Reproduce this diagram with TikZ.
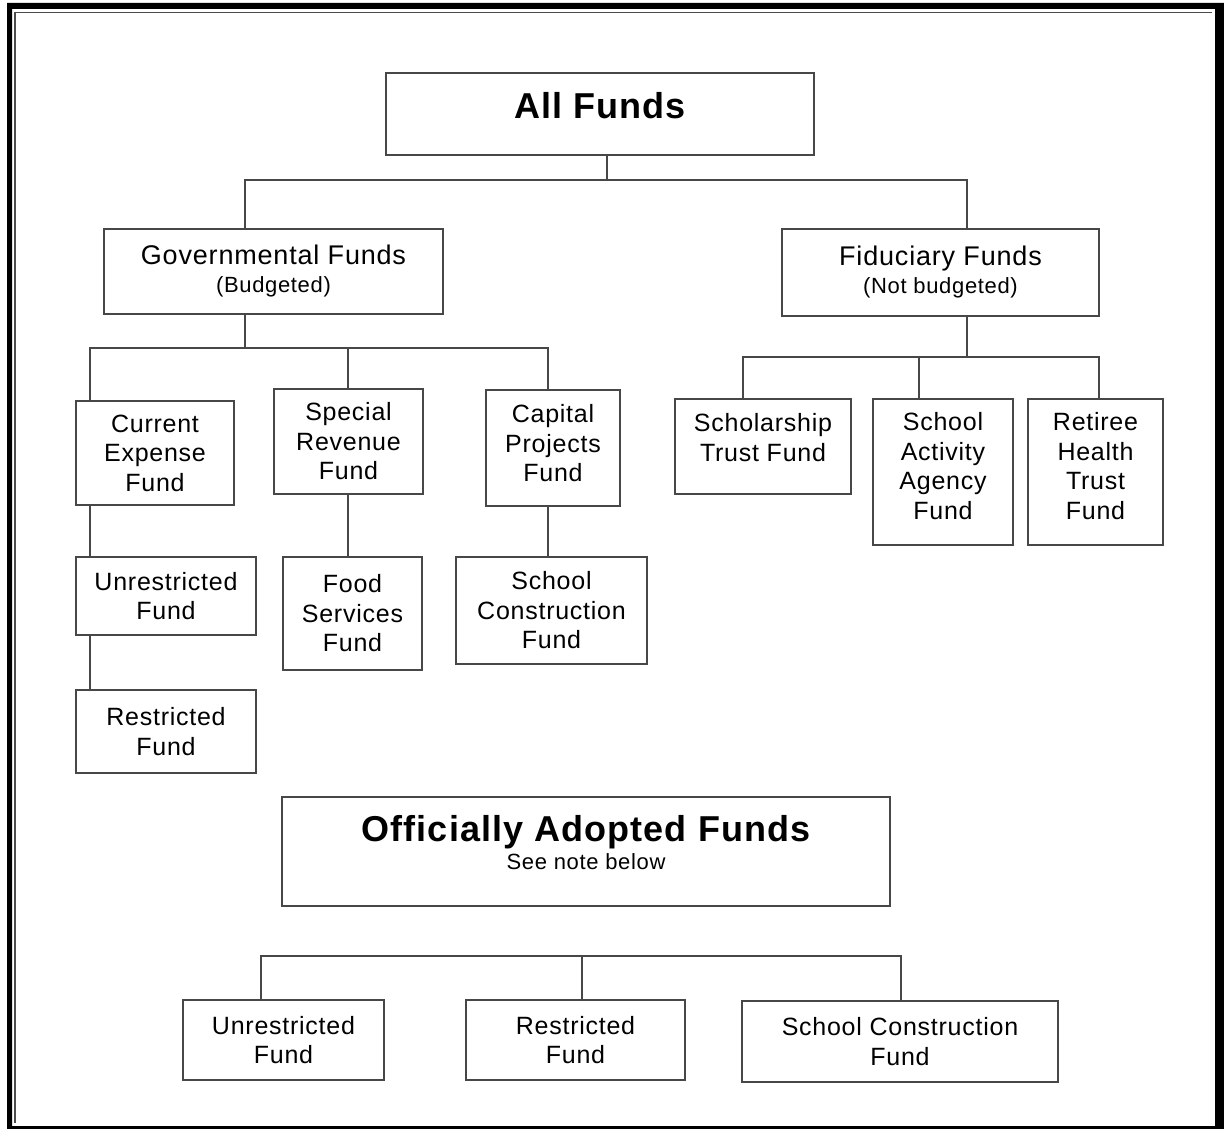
\documentclass[tikz,border=0pt]{standalone}
\usepackage{fontspec}
\setmainfont{Liberation Sans}[LetterSpace=3]
\begin{document}
\begin{tikzpicture}[x=1pt,y=-1pt,
  fbox/.style={draw=black!72, line width=1.6pt, inner sep=0pt, align=center,
    font=\fontsize{25}{29.5}\selectfont},
  conn/.style={draw=black!72, line width=1.6pt}]
\useasboundingbox (0,0) rectangle (1224,1129);
\fill[white] (0,0) rectangle (1224,1129);
% frame
\fill[black, even odd rule] (7,3) rectangle (1224,1129) (12,9) rectangle (1215,1126);
\draw[black!70, line width=1.5pt] (15,1123) -- (15,12.5) -- (1212,12.5);

% nodes
\node[fbox, minimum width=428, minimum height=82, text height=26pt, text depth=16pt,
  font=\fontsize{36}{40}\selectfont\bfseries] (allf) at (600,114) {All Funds};
\node[fbox, minimum width=339, minimum height=85] (gov) at (273.5,271.5)
  {{\fontsize{27}{30}\selectfont Governmental Funds}\\[-2pt]{\fontsize{22}{24}\selectfont (Budgeted)}\\[-23.5pt]\mbox{}};
\node[fbox, minimum width=317, minimum height=87] (fid) at (940.5,272.5)
  {{\fontsize{27}{30}\selectfont Fiduciary Funds}\\[-2pt]{\fontsize{22}{24}\selectfont (Not budgeted)}\\[-23.5pt]\mbox{}};

\node[fbox, minimum width=158, minimum height=104] (cur) at (155,453) {Current\\Expense\\Fund};
\node[fbox, minimum width=149, minimum height=105] (spr) at (348.5,441.5) {Special\\Revenue\\Fund};
\node[fbox, minimum width=134, minimum height=116] (cap) at (553,448) {Capital\\Projects\\Fund\\[-19.5pt]\mbox{}};
\node[fbox, minimum width=176, minimum height=95] (sch) at (763,446.5) {Scholarship\\Trust Fund\\[-11.5pt]\mbox{}};
\node[fbox, minimum width=140, minimum height=146] (act) at (943,472) {School\\Activity\\Agency\\Fund\\[-17.5pt]\mbox{}};
\node[fbox, minimum width=135, minimum height=146] (ret) at (1095.5,472) {Retiree\\Health\\Trust\\Fund\\[-17.5pt]\mbox{}};

\node[fbox, minimum width=180, minimum height=78] (unr) at (166,596) {Unrestricted\\Fund};
\node[fbox, minimum width=180, minimum height=83] (res) at (166,731.5) {Restricted\\Fund};
\node[fbox, minimum width=139, minimum height=113] (food) at (352.5,613.5) {Food\\Services\\Fund};
\node[fbox, minimum width=191, minimum height=107] (scon) at (551.5,610.5) {School\\Construction\\Fund};

\node[fbox, minimum width=608, minimum height=109] (off) at (586,851.5)
  {{\fontsize{36}{40}\selectfont\bfseries Officially Adopted Funds}\\[-1.5pt]{\fontsize{22}{24}\selectfont See note below}\\[-11.5pt]\mbox{}};

\node[fbox, minimum width=201, minimum height=80] (bunr) at (283.5,1040) {Unrestricted\\Fund};
\node[fbox, minimum width=219, minimum height=80] (bres) at (575.5,1040) {Restricted\\Fund};
\node[fbox, minimum width=316, minimum height=81] (bscon) at (900,1041.5) {School Construction\\Fund};

% connectors
\coordinate (t1) at (607,180);
\draw[conn] ([xshift=7pt]allf.south) -- (t1);
\draw[conn] ([xshift=-28.5pt]gov.north) |- (t1) -| ([xshift=26.5pt]fid.north);

\coordinate (t2) at (245,348);
\draw[conn] ([xshift=-28.5pt]gov.south) -- (t2);
\draw[conn] ([xshift=-65pt]cur.north) |- (t2) -| ([xshift=-5pt]cap.north);
\draw[conn] ([xshift=-0.5pt]spr.north) -- ([xshift=-0.5pt]spr.north |- t2);

\coordinate (t3) at (967,357);
\draw[conn] ([xshift=26.5pt]fid.south) -- (t3);
\draw[conn] ([xshift=-20pt]sch.north) |- (t3) -| ([xshift=3.5pt]ret.north);
\draw[conn] ([xshift=-24pt]act.north) -- ([xshift=-24pt]act.north |- t3);

\draw[conn] ([xshift=-65pt]cur.south) -- ([xshift=-76pt]unr.north);
\draw[conn] ([xshift=-76pt]unr.south) -- ([xshift=-76pt]res.north);
\draw[conn] ([xshift=-0.5pt]spr.south) -- ([xshift=-4.5pt]food.north);
\draw[conn] ([xshift=-5pt]cap.south) -- ([xshift=-3.5pt]scon.north);

\coordinate (t4) at (582,956);
\draw[conn] ([xshift=-22.5pt]bunr.north) |- (t4) -| ([xshift=1pt]bscon.north);
\draw[conn] ([xshift=6.5pt]bres.north) -- (t4);
\end{tikzpicture}
\end{document}
